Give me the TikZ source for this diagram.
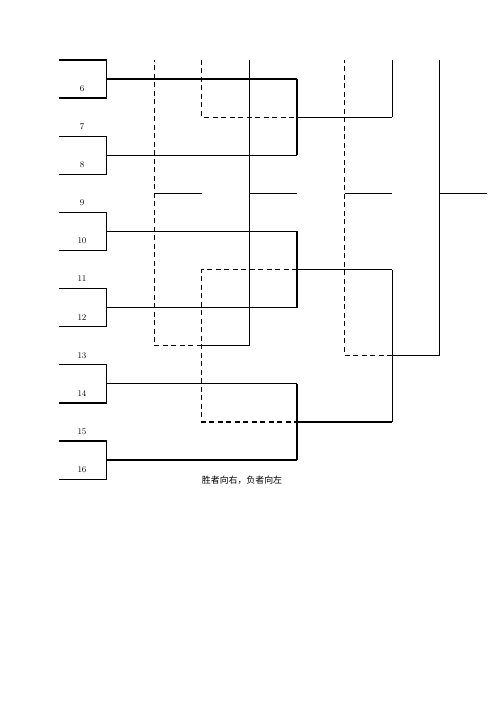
\documentclass[tikz,border=0pt]{standalone}
\usepackage{fontspec}
\newfontfamily\cjk{Noto Sans CJK SC}
\begin{document}
\begin{tikzpicture}[x=47.6pt,y=-19.05pt,
  ln/.style={line width=1.2pt},
  dl/.style={line width=1.2pt,dash pattern=on 5pt off 3.5pt},
  num/.style={font=\fontsize{8.7}{10}\selectfont,inner sep=0pt}]
\useasboundingbox[fill=white] (-1.2395,-3.1496) rectangle (9.2647,33.963);
% first-round brackets
\foreach \p in {0,...,5}{
  \draw[ln] (0,4*\p) -- (1,4*\p) -- (1,4*\p+2) -- (0,4*\p+2);
  \draw[ln] (1,4*\p+1) -- (5,4*\p+1);
}
% labels
\foreach \n in {6,...,16}{
  \node[num] (l\n) at (0.483,{2*(\n-5)-0.5}) {\n};
}
% second round (x = 297)
\draw[ln] (5,1) -- (5,5);
\draw[ln] (5,9) -- (5,13);
\draw[ln] (5,17) -- (5,21);
\draw[ln] (5,3) -- (7,3);
\draw[ln] (5,11) -- (7,11);
\draw[ln] (5,19) -- (7,19);
% x = 392
\draw[ln] (7,0) -- (7,3);
\draw[ln] (7,11) -- (7,19);
% losers dashed
\draw[dl] (3,0) -- (3,3) -- (5,3);
\draw[dl] (5,11) -- (3,11) -- (3,19) -- (5,19);
% x = 249 column
\draw[ln] (4,0) -- (4,15) -- (3,15);
\draw[dl] (3,15) -- (2,15) -- (2,0);
% x = 439 column
\draw[ln] (8,0) -- (8,15.5) -- (7,15.5);
\draw[dl] (7,15.5) -- (6,15.5) -- (6,0);
% outputs at y = 193
\draw[ln] (2,7) -- (3,7);
\draw[ln] (4,7) -- (5,7);
\draw[ln] (6,7) -- (7,7);
\draw[ln] (8,7) -- (9,7);
% note
\node[font=\cjk\fontsize{8.9}{10}\selectfont,inner sep=0pt] (note) at (3.845,22.05) {胜者向右，负者向左};
\end{tikzpicture}
\end{document}
